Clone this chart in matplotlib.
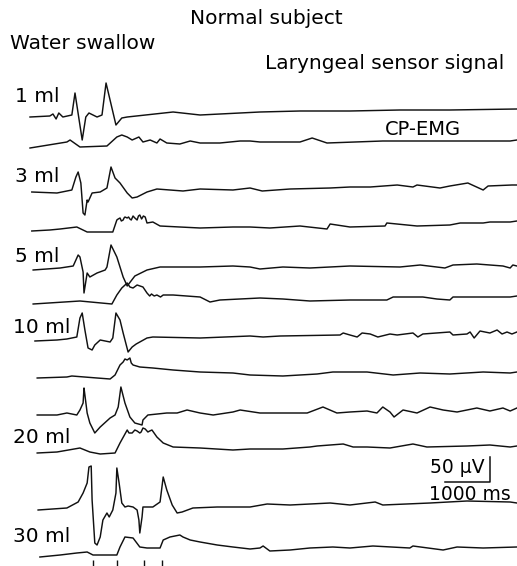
import numpy as np
import matplotlib.pyplot as plt

plt.rcParams['font.family'] = ['DejaVu Sans']

volumes = ['1 ml', '3 ml', '5 ml', '10 ml', '20 ml', '30 ml']

# laryngeal sensor signal: (time ms, amplitude uV)
lar_1ml = [(0, 0), (440, 2), (510, 6), (580, -4), (640, 8), (730, 0), (930, 4), (1000, 48),
           (1160, -46), (1240, 0), (1310, 8), (1490, 0), (1600, 4), (1690, 68), (1910, -16),
           (2040, -2), (2160, 0), (3180, 10), (3780, 4), (5110, 10), (6000, 12), (7110, 12),
           (8220, 14), (9330, 14), (10820, 16)]
lar_3ml = [(40, 0), (600, -2), (710, 0), (930, 4), (1020, 30), (1070, 40), (1130, 18), (1180, -42),
           (1220, -46), (1270, -16), (1290, -20), (1380, -2), (1560, 0), (1710, 8), (1800, 50),
           (1890, 28), (2000, 18), (2160, -2), (2270, -12), (2380, -10), (2600, 0), (2820, 6),
           (3400, 2), (3780, 6), (4510, 4), (4890, 8), (5160, 2), (5780, 6), (6670, 8), (7110, 10),
           (7560, 10), (8160, 14), (8510, 10), (8600, 14), (9110, 8), (9330, 12), (9730, 18),
           (10070, 4), (10180, 12), (10710, 14), (10820, 14)]
lar_5ml = [(70, 0), (670, 4), (960, 8), (1070, 30), (1110, 26), (1180, -4), (1200, -46), (1270, -6),
           (1330, -14), (1490, -6), (1670, 0), (1710, 6), (1800, 50), (1930, 26), (2070, -14),
           (2160, -32), (2330, -12), (2600, 0), (2890, 6), (3780, 6), (4510, 8), (4890, 6),
           (5110, 2), (5620, 6), (6220, 4), (7110, 8), (8220, 6), (8670, 10), (9220, 4), (9400, 10),
           (9930, 12), (10510, 8), (10670, 4), (10730, 10), (10820, 8)]
lar_10ml = [(110, 0), (600, 2), (820, 4), (1040, 8), (1110, 46), (1160, 56), (1220, 22), (1290, -14),
            (1380, -18), (1440, -8), (1560, 2), (1780, -2), (1840, 6), (1910, 56), (2000, 42),
            (2070, 16), (2180, -22), (2270, -12), (2360, -6), (2440, -2), (2600, 6), (2730, 8),
            (3780, 6), (4890, 10), (5180, 8), (5560, 10), (6890, 12), (6960, 16), (7110, 12),
            (7270, 8), (7380, 16), (7560, 14), (7730, 8), (8000, 14), (8160, 12), (8510, 16),
            (8620, 8), (8730, 14), (9330, 18), (9400, 12), (9710, 14), (9780, 18), (9870, 6),
            (10000, 20), (10220, 16), (10380, 22), (10490, 14), (10600, 18), (10710, 14), (10820, 18)]
lar_20ml = [(160, 0), (600, 0), (820, 4), (1040, 0), (1110, 10), (1180, 24), (1200, 54), (1220, 40),
            (1270, 4), (1330, -16), (1440, -36), (1560, -24), (1780, -6), (1890, 0), (1960, 16),
            (2020, 56), (2110, 24), (2220, -4), (2330, -16), (2490, -20), (2510, -10), (2620, 0),
            (3040, 4), (3270, 4), (3490, 10), (3780, 4), (4070, 0), (4510, 6), (4670, 10), (5110, 4),
            (5330, 4), (6160, 4), (6510, 16), (6820, 4), (7110, 6), (7490, 8), (7710, 4), (7840, 16),
            (8000, 6), (8090, -4), (8290, 10), (8600, 4), (8890, 16), (9180, 10), (9490, 6),
            (9930, 14), (10220, 8), (10510, 14), (10670, 8), (10820, 14)]
lar_30ml = [(180, 0), (820, 4), (1070, 16), (1180, 34), (1270, 54), (1310, 86), (1360, 88), (1380, 20),
            (1440, -66), (1490, -70), (1560, -54), (1620, -20), (1710, -6), (1760, -14), (1840, 0),
            (1910, 34), (1930, 84), (1980, 54), (2040, 14), (2110, 6), (2180, 8), (2290, 6),
            (2380, 0), (2420, -20), (2440, -46), (2490, -14), (2510, 6), (2730, 6), (2890, 16),
            (2960, 66), (3040, 40), (3160, 10), (3270, -6), (3380, -4), (3620, 4), (4160, 6),
            (4890, 6), (5270, 12), (5780, 10), (6670, 14), (7110, 10), (7670, 16), (7840, 10),
            (8890, 14), (9710, 18), (10670, 16), (10820, 14)]

# cricopharyngeal EMG: (time ms, amplitude uV)
emg_1ml = [(0, 0), (820, 12), (890, 16), (1110, 2), (1710, 4), (1930, 22), (2040, 26), (2160, 22),
           (2270, 16), (2420, 22), (2510, 12), (2670, 16), (2820, 10), (2890, 18), (3040, 10),
           (3330, 8), (3560, 14), (3780, 10), (4220, 10), (4670, 14), (4890, 14), (5110, 12),
           (6000, 12), (6270, 20), (6600, 10), (7840, 14), (9330, 14), (10670, 14), (10820, 16)]
emg_3ml = [(40, 0), (440, 2), (670, 4), (1040, 8), (1270, -2), (1840, -2), (1930, 22), (1960, 24),
           (2000, 26), (2030, 20), (2070, 22), (2090, 26), (2110, 28), (2160, 26), (2190, 28),
           (2220, 24), (2250, 22), (2290, 30), (2330, 26), (2380, 22), (2410, 30), (2440, 32),
           (2480, 24), (2520, 30), (2560, 28), (2600, 16), (2730, 18), (2890, 10), (3330, 8),
           (3780, 6), (4510, 8), (4890, 8), (5330, 6), (6000, 10), (6600, 4), (6670, 14), (7110, 8),
           (7890, 10), (7930, 16), (8600, 10), (9330, 12), (9560, 16), (10070, 16), (10220, 18),
           (10670, 18), (10820, 20)]
emg_5ml = [(70, 0), (1110, 6), (1820, 0), (1930, 18), (2040, 32), (2160, 42), (2220, 34), (2290, 32),
           (2380, 38), (2510, 34), (2600, 22), (2660, 16), (2700, 20), (2760, 16), (2820, 18),
           (2900, 14), (2960, 18), (3180, 18), (3780, 14), (4000, 4), (4220, 8), (5110, 12),
           (5620, 10), (6220, 6), (7110, 8), (7930, 8), (8070, 14), (8730, 14), (9040, 10),
           (9330, 8), (9400, 14), (10670, 14), (10820, 16)]
emg_10ml = [(160, 0), (820, 2), (930, 4), (1490, 0), (1780, -2), (1890, 6), (2000, 26), (2070, 32),
            (2110, 38), (2160, 36), (2220, 40), (2250, 30), (2290, 26), (2440, 22), (2730, 20),
            (3180, 16), (3780, 12), (4510, 10), (4890, 6), (5620, 4), (6380, 8), (6730, 12),
            (7000, 12), (7490, 12), (8070, 6), (8670, 10), (9330, 8), (10070, 12), (10670, 10),
            (10820, 12)]
emg_20ml = [(160, 0), (600, 2), (1110, 10), (1330, 2), (1560, -2), (1890, 0), (2000, 20), (2160, 46),
            (2200, 40), (2270, 40), (2330, 46), (2380, 44), (2440, 40), (2470, 42), (2510, 50),
            (2560, 48), (2620, 42), (2660, 44), (2710, 46), (2820, 32), (2960, 20), (3180, 12),
            (3780, 10), (4510, 6), (4890, 8), (5620, 8), (6220, 12), (6380, 14), (6960, 18),
            (7180, 12), (7490, 12), (8000, 10), (8510, 18), (8820, 12), (9710, 14), (10220, 16),
            (10670, 12), (10820, 14)]
emg_30ml = [(220, 0), (670, 4), (1040, 8), (1270, 10), (1400, 4), (1930, 4), (2000, 20), (2110, 40),
            (2290, 38), (2440, 20), (2600, 18), (2890, 18), (2960, 34), (3110, 40), (3330, 44),
            (3400, 40), (3560, 34), (3780, 30), (4160, 24), (4510, 20), (4890, 16), (5110, 18),
            (5180, 22), (5330, 12), (5780, 14), (6220, 18), (6730, 20), (7110, 18), (7620, 22),
            (8440, 18), (8510, 22), (9180, 14), (9490, 20), (10070, 18), (10820, 20)]

events_30ml = [1400, 1930, 2530, 2930]   # marks under the 30 ml record, ms
scale_uv = 50
scale_ms = 1000

laryngeal = [lar_1ml, lar_3ml, lar_5ml, lar_10ml, lar_20ml, lar_30ml]
emg = [emg_1ml, emg_3ml, emg_5ml, emg_10ml, emg_20ml, emg_30ml]

# layout (pixels of the 517x566 picture)
W, H = 517, 566
MS_PER_PX = 1000 / 45
UV_PER_PX = 2
X0 = 30
lar_base = [117, 192, 270, 341, 415, 510]
emg_base = [148, 231, 304, 378, 453, 557]
label_y = [102, 182, 262, 333, 443, 542]
label_x = [15, 15, 15, 13, 13, 13]

fig = plt.figure(figsize=(W / 100, H / 100), dpi=100)
ax = fig.add_axes([0, 0, 1, 1])
ax.set_xlim(-X0 * MS_PER_PX, (W - X0) * MS_PER_PX)
ax.set_ylim(-H * UV_PER_PX, 0)
ax.axis('off')

ink = '#111111'
for trace, base in zip(laryngeal, lar_base):
    t, v = np.array(trace, dtype=float).T
    ax.plot(t, v - base * UV_PER_PX, color=ink, lw=1.05, solid_joinstyle='round')
for trace, base in zip(emg, emg_base):
    t, v = np.array(trace, dtype=float).T
    ax.plot(t, v - base * UV_PER_PX, color=ink, lw=1.05, solid_joinstyle='round')

ax.vlines(events_30ml, -H * UV_PER_PX, -560 * UV_PER_PX, color=ink, lw=1)

# scale bar
sb_t = (490 - X0) * MS_PER_PX
sb_y = -482 * UV_PER_PX
ax.plot([sb_t - scale_ms, sb_t, sb_t], [sb_y, sb_y, sb_y + scale_uv], color=ink, lw=1.1)


def px(x, y):
    return x / W, 1 - y / H


fig.text(*px(190, 24), 'Normal subject', fontsize=14.5, va='baseline')
fig.text(*px(10, 49), 'Water swallow', fontsize=14.5, va='baseline')
fig.text(*px(265, 69), 'Laryngeal sensor signal', fontsize=14.5, va='baseline')
fig.text(*px(385, 135), 'CP-EMG', fontsize=14, va='baseline')
for name, lx, ly in zip(volumes, label_x, label_y):
    fig.text(*px(lx, ly), name, fontsize=14.5, va='baseline')
fig.text(*px(430, 473), '%d \u00b5V' % scale_uv, fontsize=13.5, va='baseline')
fig.text(*px(429, 500), '%d ms' % scale_ms, fontsize=13.5, va='baseline')

fig.savefig('out.png', dpi=100)
